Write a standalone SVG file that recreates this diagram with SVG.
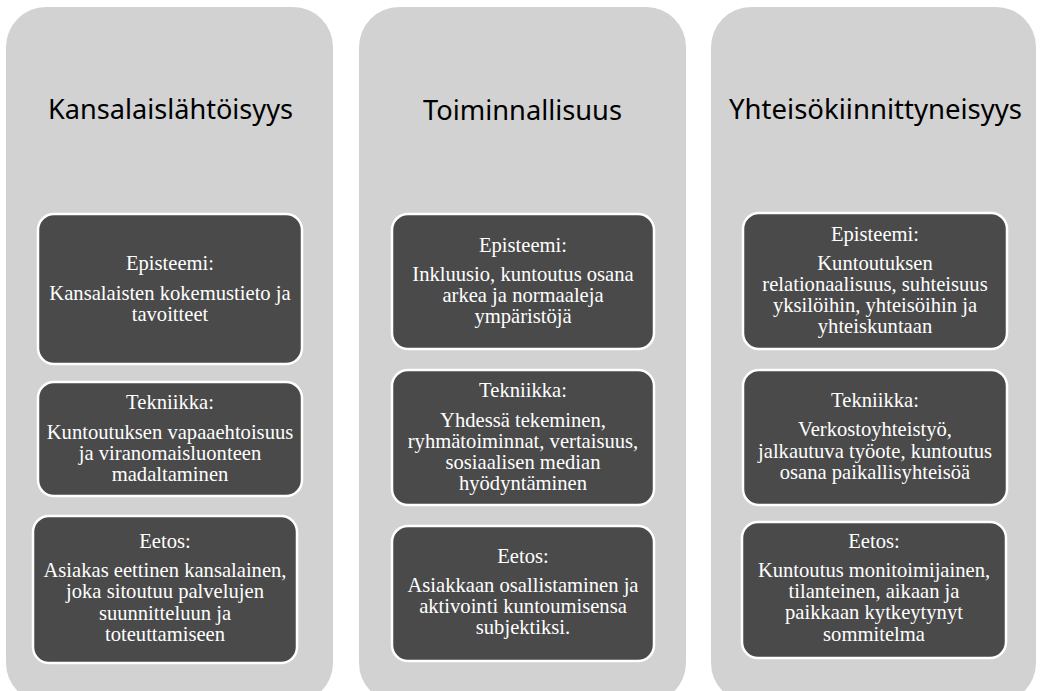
<svg xmlns="http://www.w3.org/2000/svg" width="1042" height="691" viewBox="0 0 1042 691">
<style>
.col{fill:#d2d2d2}
.box{fill:#4a4a4a;stroke:#ffffff;stroke-width:2.5}
.title{font-family:"Noto Sans","Open Sans",sans-serif;font-size:28px;fill:#000;text-anchor:middle}
.t{font-family:"Liberation Serif","Times New Roman",serif;font-size:20.6px;fill:#fff;text-anchor:middle}
</style>
<rect width="1042" height="691" fill="#ffffff"/>
<g id="col1">
<rect class="col" x="6" y="7" width="327" height="696" rx="40"/>
<text class="title" x="170.5" y="119" textLength="245" lengthAdjust="spacingAndGlyphs">Kansalaislähtöisyys</text>
</g>
<g id="col2">
<rect class="col" x="359" y="7" width="327" height="696" rx="40"/>
<text class="title" x="522.5" y="120" textLength="199" lengthAdjust="spacingAndGlyphs">Toiminnallisuus</text>
</g>
<g id="col3">
<rect class="col" x="711" y="7" width="325" height="696" rx="40"/>
<text class="title" x="875.5" y="119" textLength="293" lengthAdjust="spacingAndGlyphs">Yhteisökiinnittyneisyys</text>
</g>
<g id="c1-episteemi">
<rect class="box" x="38" y="214" width="264" height="150" rx="16"/>
<text class="t" x="170" y="270">Episteemi:</text>
<text class="t" x="170" y="300">Kansalaisten kokemustieto ja</text>
<text class="t" x="170" y="321">tavoitteet</text>
</g>
<g id="c1-tekniikka">
<rect class="box" x="38" y="382" width="264" height="114" rx="16"/>
<text class="t" x="170" y="409">Tekniikka:</text>
<text class="t" x="170" y="439">Kuntoutuksen vapaaehtoisuus</text>
<text class="t" x="170" y="460">ja viranomaisluonteen</text>
<text class="t" x="170" y="481">madaltaminen</text>
</g>
<g id="c1-eetos">
<rect class="box" x="33" y="516" width="264" height="147" rx="16"/>
<text class="t" x="165" y="548">Eetos:</text>
<text class="t" x="165" y="577">Asiakas eettinen kansalainen,</text>
<text class="t" x="165" y="598">joka sitoutuu palvelujen</text>
<text class="t" x="165" y="620">suunnitteluun ja</text>
<text class="t" x="165" y="641">toteuttamiseen</text>
</g>
<g id="c2-episteemi">
<rect class="box" x="392" y="214" width="262" height="135" rx="16"/>
<text class="t" x="523" y="252">Episteemi:</text>
<text class="t" x="523" y="281">Inkluusio, kuntoutus osana</text>
<text class="t" x="523" y="302">arkea ja normaaleja</text>
<text class="t" x="523" y="323">ympäristöjä</text>
</g>
<g id="c2-tekniikka">
<rect class="box" x="392" y="370" width="262" height="135" rx="16"/>
<text class="t" x="523" y="397">Tekniikka:</text>
<text class="t" x="523" y="427">Yhdessä tekeminen,</text>
<text class="t" x="523" y="448">ryhmätoiminnat, vertaisuus,</text>
<text class="t" x="523" y="469">sosiaalisen median</text>
<text class="t" x="523" y="490">hyödyntäminen</text>
</g>
<g id="c2-eetos">
<rect class="box" x="392" y="526" width="262" height="135" rx="16"/>
<text class="t" x="523" y="563">Eetos:</text>
<text class="t" x="523" y="592">Asiakkaan osallistaminen ja</text>
<text class="t" x="523" y="613">aktivointi kuntoumisensa</text>
<text class="t" x="523" y="634">subjektiksi.</text>
</g>
<g id="c3-episteemi">
<rect class="box" x="743" y="213" width="264" height="136" rx="16"/>
<text class="t" x="875" y="241">Episteemi:</text>
<text class="t" x="875" y="270">Kuntoutuksen</text>
<text class="t" x="875" y="291">relationaalisuus, suhteisuus</text>
<text class="t" x="875" y="312">yksilöihin, yhteisöihin ja</text>
<text class="t" x="875" y="333">yhteiskuntaan</text>
</g>
<g id="c3-tekniikka">
<rect class="box" x="743" y="370" width="264" height="135" rx="16"/>
<text class="t" x="875" y="407">Tekniikka:</text>
<text class="t" x="875" y="436">Verkostoyhteistyö,</text>
<text class="t" x="875" y="458">jalkautuva työote, kuntoutus</text>
<text class="t" x="875" y="479">osana paikallisyhteisöä</text>
</g>
<g id="c3-eetos">
<rect class="box" x="742" y="522" width="264" height="136" rx="16"/>
<text class="t" x="874" y="548">Eetos:</text>
<text class="t" x="874" y="577">Kuntoutus monitoimijainen,</text>
<text class="t" x="874" y="598">tilanteinen, aikaan ja</text>
<text class="t" x="874" y="619">paikkaan kytkeytynyt</text>
<text class="t" x="874" y="641">sommitelma</text>
</g>
<g id="connectors"></g>
</svg>
